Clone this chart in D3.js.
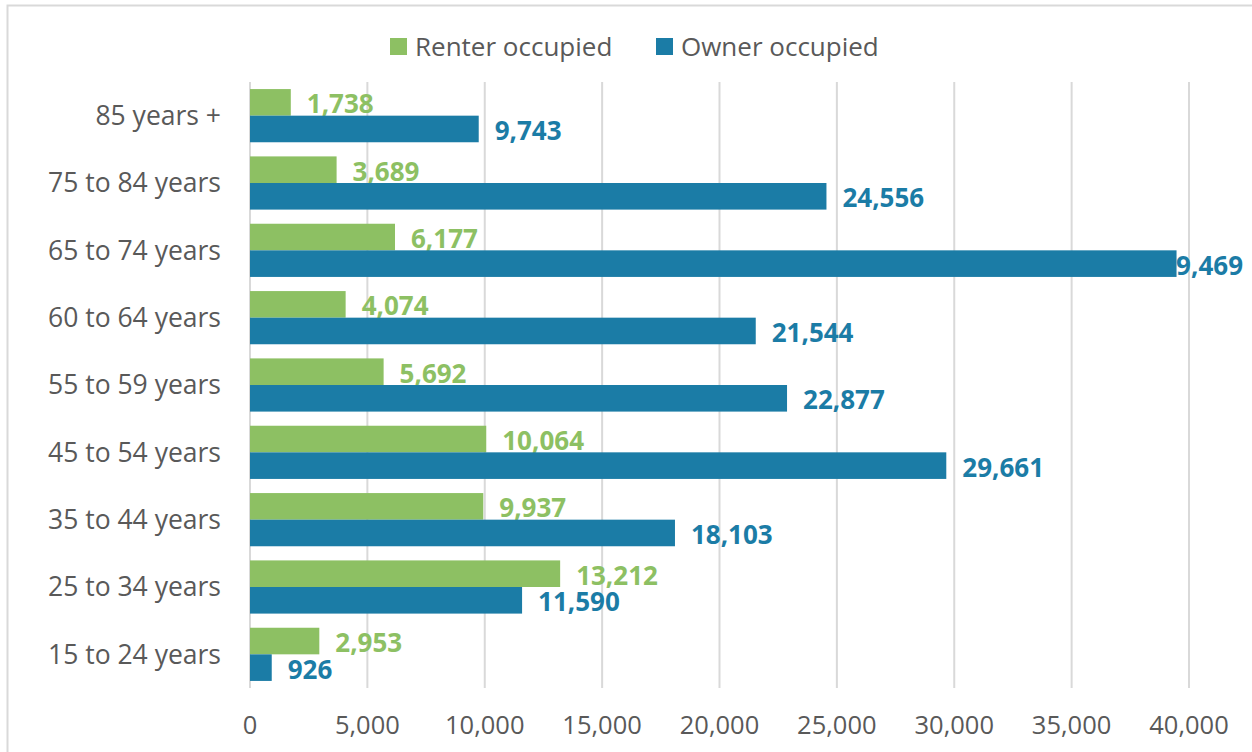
<!DOCTYPE html>
<meta charset="utf-8">
<title>Households by age of householder and tenure</title>
<style>
    body { margin: 0; background: #fff; }
    text { font-family: "Open Sans", "Noto Sans", sans-serif; }
</style>
<script src="https://d3js.org/d3.v7.js"></script>

<svg id="chart" width="1252" height="752"></svg>

<script>
    // data, top row first
    const ageGroups = ["85 years +", "75 to 84 years", "65 to 74 years", "60 to 64 years",
        "55 to 59 years", "45 to 54 years", "35 to 44 years", "25 to 34 years", "15 to 24 years"];
    const renterValues = [1738, 3689, 6177, 4074, 5692, 10064, 9937, 13212, 2953];
    const ownerValues = [9743, 24556, 39469, 21544, 22877, 29661, 18103, 11590, 926];
    const seriesNames = ["Renter occupied", "Owner occupied"];
    const xTicks = [0, 5000, 10000, 15000, 20000, 25000, 30000, 35000, 40000];

    const colors = ["#8dc063", "#1b7ca6"];

    const svg = d3.select("svg"),
        width = +svg.attr("width"),
        height = +svg.attr("height");

    // outer frame
    svg.append("rect")
        .attr("x", 7.5).attr("y", 5.5)
        .attr("width", 1400).attr("height", 900)
        .attr("fill", "none")
        .attr("stroke", "#d9d9d9")
        .attr("stroke-width", 2);

    const margin = {top: 82, left: 250, right: 63, bottom: 64};

    const x = d3.scaleLinear()
        .domain([0, 40000])
        .range([margin.left, width - margin.right]);

    const y = d3.scaleBand()
        .domain(ageGroups)
        .range([margin.top, height - margin.bottom])
        .paddingInner(0.21)
        .paddingOuter(0.105);

    const ySub = d3.scaleBand()
        .domain(seriesNames)
        .range([0, y.bandwidth()]);

    // gridlines
    svg.append("g")
        .selectAll("line")
        .data(xTicks)
        .join("line")
        .attr("x1", d => x(d)).attr("x2", d => x(d))
        .attr("y1", margin.top).attr("y2", height - margin.bottom)
        .attr("stroke", "#d9d9d9")
        .attr("stroke-width", 2);

    // x tick labels
    svg.append("g")
        .selectAll("text")
        .data(xTicks)
        .join("text")
        .attr("x", d => x(d))
        .attr("y", 734)
        .attr("text-anchor", "middle")
        .attr("fill", "#595959")
        .style("font-size", "25.5px")
        .text(d => d3.format(",")(d));

    // category labels
    svg.append("g")
        .selectAll("text")
        .data(ageGroups)
        .join("text")
        .attr("x", 221)
        .attr("y", d => y(d) + y.bandwidth() / 2)
        .attr("dy", "0.35em")
        .attr("text-anchor", "end")
        .attr("fill", "#595959")
        .style("font-size", "26.5px")
        .text(d => d);

    const rows = ageGroups.map((g, i) => ({group: g, values: [renterValues[i], ownerValues[i]]}));

    // value labels (drawn under the bars so an overflowing label tucks behind)
    const labelG = svg.append("g");
    rows.forEach(r => {
        r.values.forEach((v, k) => {
            const t = labelG.append("text")
                .attr("x", x(v) + 16)
                .attr("y", y(r.group) + ySub(seriesNames[k]) + ySub.bandwidth() / 2 + 2)
                .attr("dy", "0.35em")
                .attr("fill", colors[k])
                .style("font-size", "26px")
                .style("font-weight", "bold")
                .text(d3.format(",")(v));
            const w = t.node().getComputedTextLength();
            if (x(v) + 16 + w > width - 8) {
                t.attr("x", width - 9).attr("text-anchor", "end");
            }
        });
    });

    // bars
    svg.append("g")
        .selectAll("g")
        .data(rows)
        .join("g")
        .attr("transform", d => `translate(0,${y(d.group)})`)
        .selectAll("rect")
        .data(d => d.values.map((v, k) => ({v, k})))
        .join("rect")
        .attr("x", x(0))
        .attr("y", d => ySub(seriesNames[d.k]))
        .attr("width", d => x(d.v) - x(0))
        .attr("height", ySub.bandwidth())
        .attr("fill", d => colors[d.k]);

    // legend
    const legendX = [390, 656];
    const legend = svg.append("g")
        .selectAll("g")
        .data(seriesNames)
        .join("g")
        .attr("transform", (d, i) => `translate(${legendX[i]},38)`);
    legend.append("rect")
        .attr("width", 17).attr("height", 17)
        .attr("fill", (d, i) => colors[i]);
    legend.append("text")
        .attr("x", 25)
        .attr("y", 8.5)
        .attr("dy", "0.35em")
        .attr("fill", "#595959")
        .style("font-size", "26px")
        .text(d => d);
</script>
